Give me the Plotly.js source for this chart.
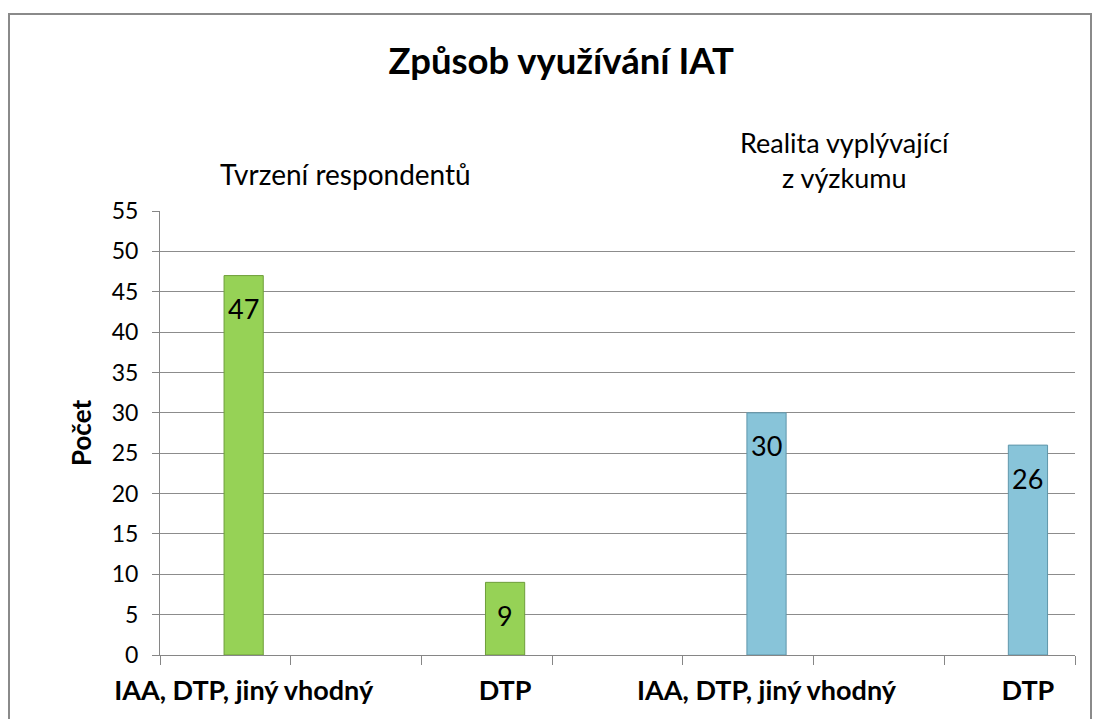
<!DOCTYPE html>
<html>
<head>
<meta charset="utf-8">
<script src="https://cdn.plot.ly/plotly-3.0.1.min.js"></script>
<style>
html,body{margin:0;padding:0;background:#fff;}
#wrap{position:relative;width:1094px;height:719px;overflow:hidden;}
#chart{width:1094px;height:719px;}
#frame{position:absolute;left:8px;top:13px;width:1084px;height:720px;border:2px solid #8a8a8a;box-sizing:border-box;pointer-events:none;}
</style>
</head>
<body>
<div id="wrap"><div id="chart"></div><div id="frame"></div></div>
<script>
// Data
const categories = ["IAA, DTP, jiný vhodný", "DTP", "IAA, DTP, jiný vhodný", "DTP"];
const values = [47, 9, 30, 26];
const groups = ["Tvrzení respondentů", "Realita vyplývající<br>z výzkumu"];
const yTicks = [0,5,10,15,20,25,30,35,40,45,50,55];

const FONT = "Lato, 'Open Sans', sans-serif";
const pos = categories.map((c,i) => i*2 + 0.64);
const colors = ["#96D256", "#96D256", "#88C4D9", "#88C4D9"];
const lineColors = ["#6E9E3A", "#6E9E3A", "#5F97AB", "#5F97AB"];

const trace = {
  type: "bar",
  x: pos,
  y: values,
  width: 0.3,
  marker: {color: colors, line: {color: lineColors, width: 1}},
  hoverinfo: "y",
  xaxis: "x",
  yaxis: "y"
};
const labelTrace = {
  type: "scatter", mode: "markers",
  x: pos, y: values.map(()=>0),
  marker: {opacity: 0}, hoverinfo: "skip",
  xaxis: "x2", yaxis: "y"
};

const annotations = values.map((v,i) => ({
  x: pos[i], y: v, xref: "x", yref: "y",
  text: String(v), showarrow: false,
  yanchor: "middle", yshift: -33,
  font: {family: FONT, size: 27, color: "#000"}
}));
annotations.push({
  x: 345, y: 174, xref: "paper", yref: "paper",
  text: groups[0], showarrow: false, xanchor: "center", yanchor: "middle",
  font: {family: FONT, size: 28, color: "#000"}
});
annotations.push({
  x: 845, y: 160, xref: "paper", yref: "paper",
  text: groups[1], showarrow: false, xanchor: "center", yanchor: "middle",
  font: {family: FONT, size: 27, color: "#000"}
});
// convert pixel positions of group headers to paper coords
const L = 160, R = 19, T = 211, B = 64, W = 1094, H = 719;
annotations.forEach(a => {
  if (a.xref === "paper") {
    a.x = (a.x - L) / (W - L - R);
    a.y = (H - B - a.y) / (H - T - B);
  }
});

const layout = {
  width: W, height: H,
  margin: {l: L, r: R, t: T, b: B},
  paper_bgcolor: "#fff", plot_bgcolor: "#fff",
  showlegend: false,
  title: {text: "<b>Způsob využívání IAT</b>", x: 0.513, xanchor: "center", y: 0.915, yanchor: "middle",
          font: {family: FONT, size: 36.5, color: "#000"}},
  xaxis: {
    range: [0, 7], tickvals: [0,1,2,3,4,5,6,7], showticklabels: false,
    ticks: "outside", ticklen: 9, tickcolor: "#868686", tickwidth: 1,
    showline: true, linecolor: "#868686", linewidth: 1,
    showgrid: false, zeroline: false, fixedrange: true
  },
  xaxis2: {
    range: [0, 7], overlaying: "x", side: "bottom", anchor: "y",
    tickvals: pos, ticktext: categories.map(c => "<b>" + c + "</b>"),
    ticks: "", ticklabelstandoff: 17, showline: false, showgrid: false, zeroline: false,
    tickfont: {family: FONT, size: 27, color: "#000"}
  },
  yaxis: {
    range: [0, 55], tickvals: yTicks,
    ticks: "outside", ticklen: 7, tickcolor: "#868686",
    showline: true, linecolor: "#868686", linewidth: 1,
    showgrid: true, gridcolor: "#8c8c8c", gridwidth: 1, zeroline: false,
    ticklabelstandoff: 9,
    tickfont: {family: FONT, size: 23, color: "#000"},
    title: {text: "<b>Počet</b>", standoff: 12, font: {family: FONT, size: 26, color: "#000"}}
  },
  annotations: annotations,
  bargap: 0
};

Plotly.newPlot("chart", [trace, labelTrace], layout, {displayModeBar: false, staticPlot: true});
</script>
</body>
</html>
